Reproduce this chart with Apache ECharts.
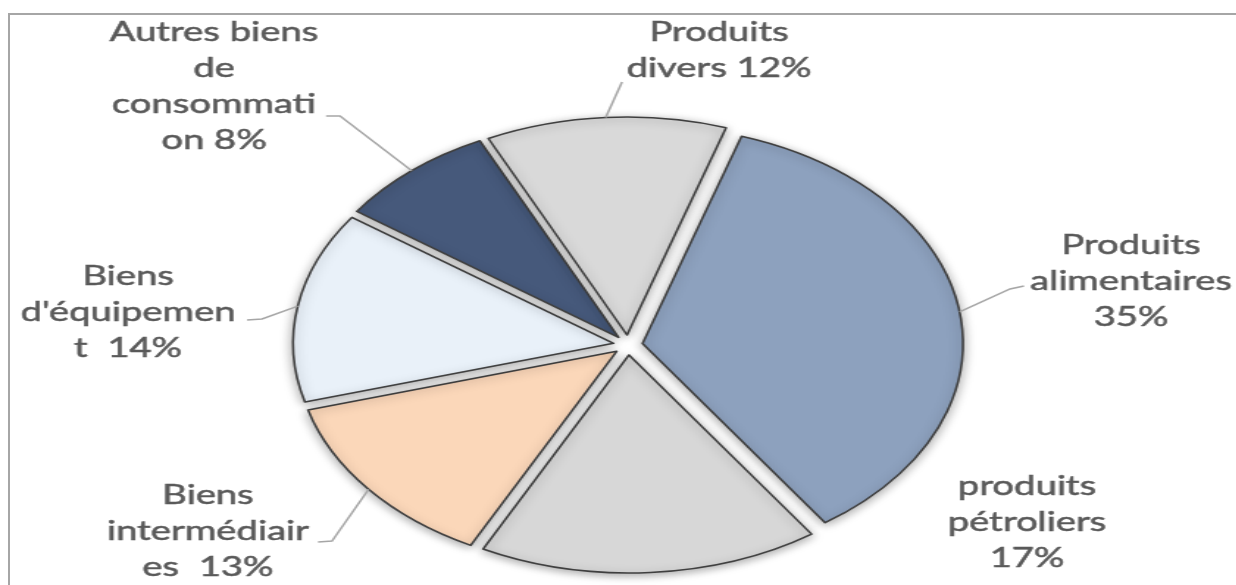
<!DOCTYPE html>
<html><head><meta charset="utf-8">
<script src="https://cdn.jsdelivr.net/npm/echarts@6/dist/echarts.min.js"></script>
<style>
html,body{margin:0;padding:0;width:1236px;height:585px;overflow:hidden;background:#fff;}
#frame{position:absolute;left:8px;top:13px;width:1400px;height:700px;border-left:2px solid #a6a6a6;border-top:2px solid #a6a6a6;box-sizing:border-box;}
#chart{position:absolute;left:0;top:0;width:841px;height:585px;transform:scaleX(1.47);transform-origin:0 0;}
</style></head><body>
<div id="frame"></div>
<div id="chart"></div>
<script>
// ---- data ----
const categories = ['Produits alimentaires', 'produits pétroliers', 'Biens intermédiaires', "Biens d'équipement", 'Autres biens de consommation', 'Produits divers'];
const values = [35, 17, 13, 14, 8, 12];
const labelPrefixes = ['Produits\nalimentaires\n', 'produits\npétroliers\n', 'Biens\nintermédiair\nes  ', "Biens\nd'équipemen\nt  ", 'Autres biens\nde\nconsommati\non ', 'Produits\ndivers '];
const colors = ['#8da1be', '#d7d7d7', '#fbd7b9', '#e9f1f9', '#46597b', '#d9d9d9'];

// ---- layout (screen px) ----
const S = 1.47, CX = 628, CY = 345, R = 218, OFF = 10, START = 72;
const labelPos = [[1131, 282], [1027, 523], [208, 532], [128, 313], [214, 87], [719, 51]];
const lineTail = [[[1010, 289], [1024, 286]], null, [[332, 541], [318, 542]], [[262, 319], [247, 320]], [[340, 116], [326, 116]], [[622, 82], [622, 82]]];

const total = values.reduce((a, b) => a + b, 0);
function midAngle(i) {
  let cum = 0;
  for (let k = 0; k < i; k++) cum += values[k];
  return (START - (cum + values[i] / 2) / total * 360) * Math.PI / 180;
}
function edgePoint(i) {
  const a = midAngle(i), rr = R + OFF;
  return [CX / S + rr * Math.cos(a), CY - rr * Math.sin(a)];
}

const common = {
  type: 'pie',
  center: [CX / S, CY],
  radius: [0, R],
  startAngle: START,
  clockwise: true,
  avoidLabelOverlap: false,
  emphasis: {disabled: true}
};

const chart = echarts.init(document.getElementById('chart'), null, {renderer: 'canvas'});
chart.setOption({
  animation: false,
  backgroundColor: 'transparent',
  series: [Object.assign({}, common, {
    name: 'slices',
    selectedMode: 'multiple',
    selectedOffset: OFF,
    itemStyle: {
      borderColor: '#3f3f3f',
      borderWidth: 1.6,
      shadowBlur: 8,
      shadowColor: 'rgba(0,0,0,0.35)',
      shadowOffsetY: 2
    },
    label: {show: false},
    labelLine: {show: false},
    data: categories.map((name, i) => ({
      name: name,
      value: values[i],
      selected: true,
      itemStyle: {color: colors[i]}
    }))
  }), Object.assign({}, common, {
    name: 'labels',
    silent: true,
    z: 3,
    itemStyle: {color: 'rgba(0,0,0,0)', borderWidth: 0},
    label: {
      show: true,
      position: 'outside',
      fontFamily: 'Lato',
      fontSize: 26,
      lineHeight: 36,
      color: '#595959',
      textBorderColor: '#595959',
      textBorderWidth: 0.5,
      formatter: p => labelPrefixes[p.dataIndex] + p.value + '%'
    },
    labelLine: {
      show: true,
      lineStyle: {color: '#a6a6a6', width: 1.5}
    },
    labelLayout: function (p) {
      const i = p.dataIndex;
      const pos = labelPos[i];
      const out = {x: pos[0] / S, y: pos[1], align: 'center', verticalAlign: 'middle', hideOverlap: false};
      const t = lineTail[i];
      const e = edgePoint(i);
      out.labelLinePoints = t ? [e, [t[0][0] / S, t[0][1]], [t[1][0] / S, t[1][1]]] : [e, e, e];
      return out;
    },
    data: categories.map((name, i) => ({
      name: name,
      value: values[i],
      labelLine: {show: lineTail[i] !== null}
    }))
  })]
});
</script>
</body></html>
